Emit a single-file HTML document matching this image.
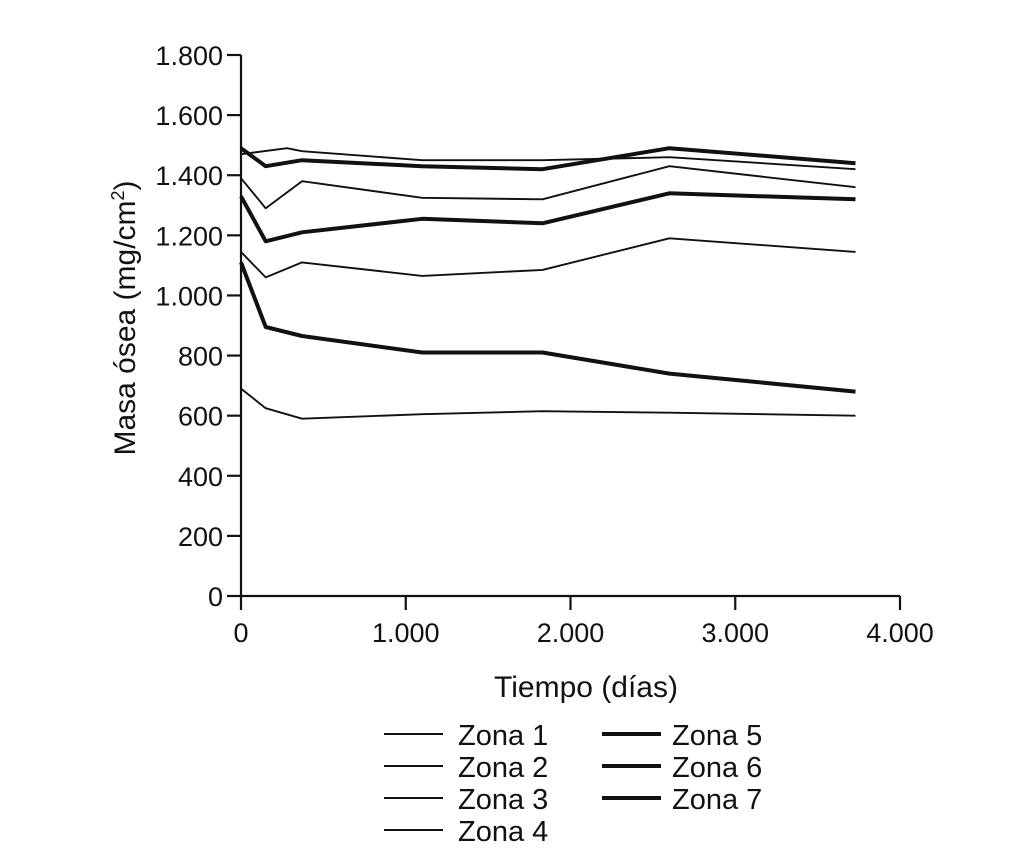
<!DOCTYPE html>
<html><head><meta charset="utf-8"><style>
html,body{margin:0;padding:0;background:#fff;}
svg{display:block;font-family:"Liberation Sans",Arial,sans-serif;}
</style></head><body>
<svg id="chart" width="1020" height="862" viewBox="0 0 1020 862">
<g id="axes"></g><g id="series"></g><g id="legend"></g>
</svg>
<script>
const days = [0, 150, 370, 1100, 1830, 2600, 3730];
const zona1 = [1470, 1490, 1480, 1450, 1450, 1460, 1420];
const zona2 = [1390, 1290, 1380, 1325, 1320, 1430, 1360];
const zona3 = [1145, 1060, 1110, 1065, 1085, 1190, 1145];
const zona4 = [690, 625, 590, 605, 615, 610, 600];
const zona5 = [1490, 1430, 1450, 1430, 1420, 1490, 1440];
const zona6 = [1330, 1180, 1210, 1255, 1240, 1340, 1320];
const zona7 = [1110, 895, 865, 810, 810, 740, 680];
const zona1Days = [0, 280, 370, 1100, 1830, 2600, 3730];
const seriesNames = ["Zona 1","Zona 2","Zona 3","Zona 4","Zona 5","Zona 6","Zona 7"];
const yTicks = [0,200,400,600,800,1000,1200,1400,1600,1800];
const yTickLabels = ["0","200","400","600","800","1.000","1.200","1.400","1.600","1.800"];
const xTicks = [0,1000,2000,3000,4000];
const xTickLabels = ["0","1.000","2.000","3.000","4.000"];

const NS="http://www.w3.org/2000/svg";
const X0=241,X1=900,Y0=596,Y1=55;
const xs=d=>X0+d/4000*(X1-X0);
const ys=v=>Y0-v/1800*(Y0-Y1);
function mk(tag,attrs,parent){const e=document.createElementNS(NS,tag);for(const k in attrs)e.setAttribute(k,attrs[k]);parent.appendChild(e);return e;}
const axes=document.getElementById('axes'),ser=document.getElementById('series'),leg=document.getElementById('legend');

let yAxis=mk('line',{x1:X0,y1:Y1,x2:X0,y2:Y0,stroke:'#111','stroke-width':2.2},axes);


let xAxis=mk('line',{x1:X0,y1:Y0,x2:X1,y2:Y0,stroke:'#111','stroke-width':2.2},axes);


yTicks.forEach((v,i)=>{
  const y=ys(v);
  const t=mk('line',{x1:X0-14,y1:y,x2:X0,y2:y,stroke:'#111','stroke-width':2.2},axes);
  
  
  const l=mk('text',{x:X0-18,y:y+10,'text-anchor':'end','font-size':27,fill:'#111'},axes);
  l.textContent=yTickLabels[i];
  
  
});
xTicks.forEach((v,i)=>{
  const x=xs(v);
  const t=mk('line',{x1:x,y1:Y0,x2:x,y2:Y0+14,stroke:'#111','stroke-width':2.2},axes);
  
  
  const l=mk('text',{x:x,y:642,'text-anchor':'middle','font-size':27,fill:'#111'},axes);
  l.textContent=xTickLabels[i];
  
  
});
const xt=mk('text',{x:586,y:697,'text-anchor':'middle','font-size':30,fill:'#111'},axes);
xt.textContent='Tiempo (días)';


const yt=mk('text',{x:0,y:0,'text-anchor':'middle','font-size':30,fill:'#111',transform:'translate(135,318) rotate(-90)'},axes);
yt.innerHTML='Masa ósea (mg/cm<tspan dy="-11" font-size="18">2</tspan><tspan dy="11">)</tspan>';



const allSeries=[[zona1Days,zona1],[days,zona2],[days,zona3],[days,zona4],[days,zona5],[days,zona6],[days,zona7]];
allSeries.forEach((s,i)=>{
  const pts=s[0].map((d,j)=>xs(d).toFixed(1)+','+ys(s[1][j]).toFixed(1)).join(' ');
  const p=mk('polyline',{points:pts,fill:'none',stroke:'#111','stroke-width':i<4?1.9:4,'stroke-linejoin':'round'},ser);
  
  
});
const legY=[734,766,798,830];
seriesNames.forEach((n,i)=>{
  const col=i<4?0:1,row=i<4?i:i-4;
  const lx=col?602:384,tx=col?672:458,y=legY[row];
  const g=mk('g',{},leg);
  
  
  mk('line',{x1:lx,y1:y,x2:lx+59,y2:y,stroke:'#111','stroke-width':i<4?1.9:4},g);
  const t=mk('text',{x:tx,y:y+11,'font-size':29,fill:'#111'},g);
  t.textContent=n;
});
</script>
</body></html>
